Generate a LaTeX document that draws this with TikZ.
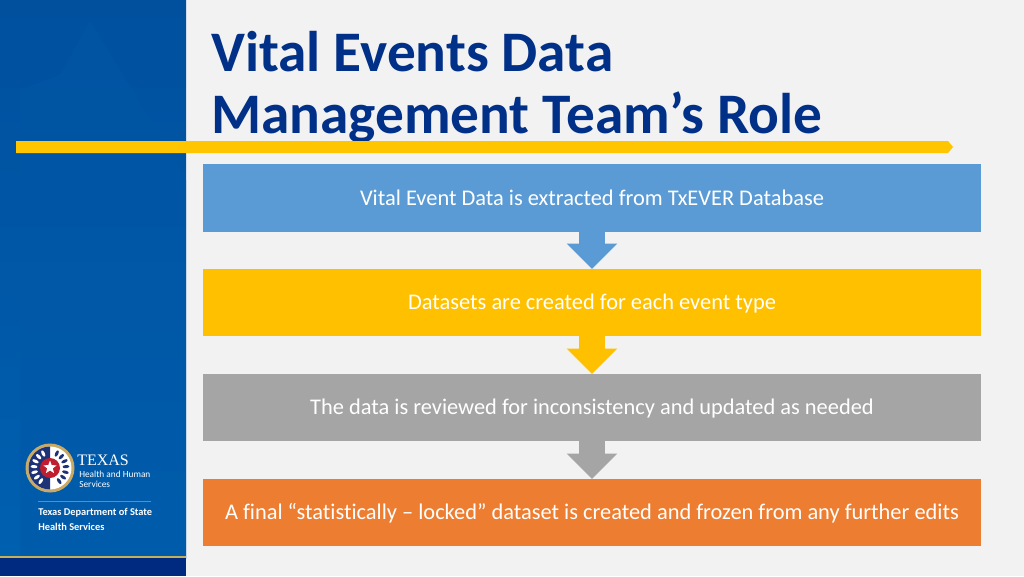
\documentclass[tikz,border=0pt]{standalone}
\usepackage{fontspec}
\setmainfont[Ligatures=NoCommon]{Carlito}
\newfontfamily\logofont{Liberation Serif}
\usetikzlibrary{arrows.meta,shapes.geometric}
\definecolor{paper}{RGB}{242,242,242}
\definecolor{side}{RGB}{0,88,166}
\definecolor{sidedark}{RGB}{0,80,158}
\definecolor{sidelow}{RGB}{0,96,176}
\definecolor{band}{RGB}{0,42,128}
\definecolor{or}{RGB}{255,198,0}
\definecolor{line}{RGB}{196,176,90}
\definecolor{titleblue}{RGB}{0,48,135}
\definecolor{stepblue}{RGB}{91,155,213}
\definecolor{stepgold}{RGB}{255,192,0}
\definecolor{stepgray}{RGB}{165,165,165}
\definecolor{steporange}{RGB}{237,125,49}
\definecolor{logored}{RGB}{190,30,45}
\definecolor{logonavy}{RGB}{30,50,120}
\definecolor{logogold}{RGB}{200,170,100}
\tikzset{
	stepbox/.style={minimum width=583.5pt,minimum height=50.5pt,outer sep=0pt,inner sep=0pt,
		text=white,text height=13pt,text depth=2.5pt,font=\fontsize{16.8}{20}\selectfont},
	titletext/.style={anchor=base west,inner sep=0pt,text=titleblue,font=\fontsize{43}{52}\selectfont\bfseries},
	flow/.style={line width=19pt,-{Triangle[width=37pt,length=19pt]}},
	logotext/.style={text=white,anchor=west,inner sep=0pt}
}
\begin{document}
\begin{tikzpicture}[x=0.75pt,y=-0.75pt]
	\useasboundingbox (0,0) rectangle (1024,576);
	\fill[paper]		(0,0) rectangle (1024,576);

	% sidebar
	\shade[top color=sidedark,bottom color=sidelow]	(0,0) rectangle (186,558);
	\fill[side,opacity=0.45]		(20,558) -- (20,90) -- (60,75) -- (90,20) -- (186,180) -- (186,558) -- cycle;
	\fill[band]			(0,558) rectangle (186,576);
	\draw[line,thick]	(0,557) -- (186,557);

	% title
	\node[titletext] (title1) at (211,71.5) {Vital Events Data};
	\node[titletext] (title2) at (211,133.5) {Management Team’s Role};
	\fill[or]			(16,141) -- (948,141) -- (953,147) -- (948,153) -- (16,153) -- cycle;

	% steps
	\node[stepbox,fill=stepblue] (extract) at (592,198) {Vital Event Data is extracted from TxEVER Database};
	\node[stepbox,fill=stepgold] (create) at (592,302.5) {Datasets are created for each event type};
	\node[stepbox,fill=stepgray] (review) at (592,407.5) {The data is reviewed for inconsistency and updated as needed};
	\node[stepbox,fill=steporange] (final) at (592,512.5) {A final “statistically – locked” dataset is created and frozen from any further edits};

	\draw[flow,stepblue]	(extract.south) -- (create.north);
	\draw[flow,stepgold]	(create.south) -- (review.north);
	\draw[flow,stepgray]	(review.south) -- (final.north);

	% logo
	\fill[logogold]		(50,468) circle (24.5);
	\fill[white]		(50,468) circle (21.5);
	\fill[logonavy]		(50,446.5) arc (270:90:21.5) -- cycle;
	\foreach \a in {115,135,...,235} {
		\fill[white,rotate around={\a:(50,468)}]	(66,468) ellipse (3.4 and 1.6);
	}
	\foreach \a in {-55,-35,...,65} {
		\fill[logonavy,rotate around={\a:(50,468)}]	(66,468) ellipse (3.4 and 1.6);
	}
	\fill[logored]		(50,468) circle (10);
	\node[star,star points=5,star point ratio=2.4,fill=white,inner sep=0pt,minimum size=10.5pt] (logostar) at (50,467.5) {};

	\node[logotext,font=\logofont\fontsize{12}{14}\selectfont] (texas) at (77,460) {TEXAS};
	\node[logotext,font=\fontsize{7}{9}\selectfont] (hhs1) at (79,474) {Health and Human};
	\node[logotext,font=\fontsize{7}{9}\selectfont] (hhs2) at (79,484.5) {Services};
	\draw[line,opacity=0.6]	(38,501) -- (151,501);
	\node[logotext,font=\fontsize{7.8}{9}\selectfont\bfseries] (dshs1) at (38,513) {Texas Department of State};
	\node[logotext,font=\fontsize{7.8}{9}\selectfont\bfseries] (dshs2) at (38,527) {Health Services};
\end{tikzpicture}
\end{document}
